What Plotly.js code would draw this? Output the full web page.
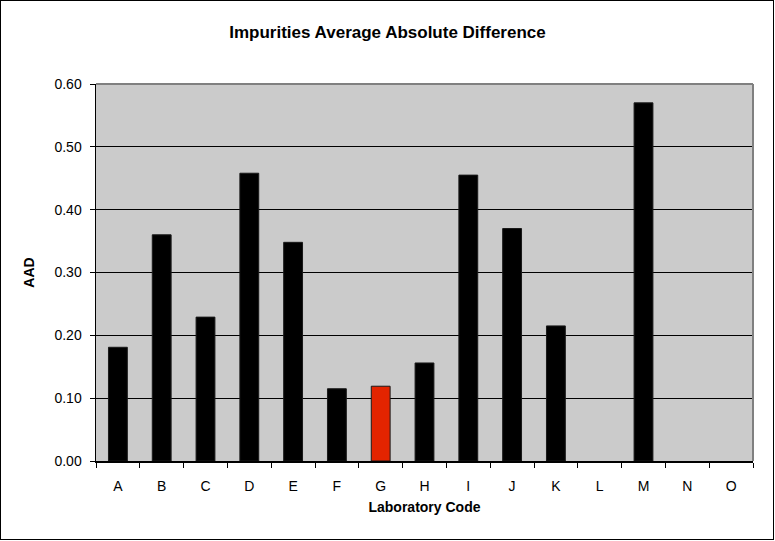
<!DOCTYPE html>
<html>
<head>
<meta charset="utf-8">
<script src="https://cdn.plot.ly/plotly-3.0.1.min.js"></script>
<style>
html,body{margin:0;padding:0;background:#fff;}
#wrap{position:relative;width:775px;height:541px;}
#chart{width:775px;height:541px;}
#frame{position:absolute;left:0;top:0;width:772px;height:538px;border:1px solid #000;pointer-events:none;}
</style>
</head>
<body>
<div id="wrap"><div id="chart"></div><div id="frame"></div></div>
<script>
const labs = ["A","B","C","D","E","F","G","H","I","J","K","L","M","N","O"];
const aad = [0.181,0.360,0.229,0.458,0.348,0.115,0.119,0.156,0.455,0.370,0.215,null,0.570,null,null];
const highlight = "G";
const yTicks = [0,0.1,0.2,0.3,0.4,0.5,0.6];

const fills = labs.map(l => l === highlight ? "#e32400" : "#000000");

const trace = {
  type: "bar",
  x: labs,
  y: aad,
  marker: {color: fills, line: {color: "#1a1a1a", width: 1}},
  hoverinfo: "x+y"
};

const layout = {
  width: 775, height: 541,
  margin: {l: 96, r: 22, t: 84, b: 80},
  paper_bgcolor: "#ffffff",
  plot_bgcolor: "#cbcbcb",
  bargap: 0.57,
  showlegend: false,
  font: {family: "Liberation Sans, Arial, sans-serif", color: "#000"},
  title: {text: "<b>Impurities Average Absolute Difference</b>", x: 0.5, xanchor: "center", y: 0.941, yanchor: "middle", font: {size: 17}},
  xaxis: {
    type: "category",
    categoryorder: "array", categoryarray: labs,
    range: [-0.5, labs.length - 0.5],
    tickson: "boundaries",
    ticks: "outside", ticklen: 5, tickcolor: "#000", tickwidth: 1,
    ticklabelstandoff: 12,
    showline: true, linecolor: "#000", linewidth: 1.5,
    showgrid: false, zeroline: false,
    tickfont: {size: 14},
    title: {text: "<b>Laboratory Code</b>", font: {size: 14}, standoff: 9}
  },
  yaxis: {
    range: [0, 0.6],
    tickvals: yTicks,
    ticktext: yTicks.map(v => v.toFixed(2)),
    ticks: "outside", ticklen: 5, tickcolor: "#000",
    ticklabelstandoff: 5,
    showline: true, linecolor: "#000", linewidth: 1.5,
    showgrid: true, gridcolor: "#000", gridwidth: 1,
    zeroline: false,
    tickfont: {size: 14},
    title: {text: "<b>AAD</b>", font: {size: 14}, standoff: 16}
  },
  shapes: [
    {type: "line", xref: "paper", yref: "paper", x0: 0, x1: 1, y0: 1, y1: 1, line: {color: "#808080", width: 2}, layer: "above"},
    {type: "line", xref: "paper", yref: "paper", x0: 1, x1: 1, y0: 0, y1: 1, line: {color: "#808080", width: 2}, layer: "above"}
  ]
};

Plotly.newPlot("chart", [trace], layout, {displayModeBar: false, staticPlot: true});
</script>
</body>
</html>
